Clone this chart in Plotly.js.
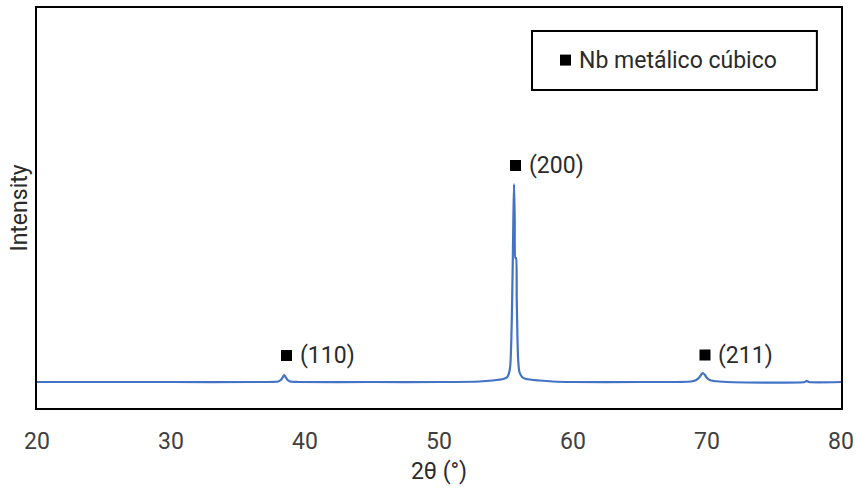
<!DOCTYPE html>
<html>
<head>
<meta charset="utf-8">
<script src="https://cdn.plot.ly/plotly-3.0.1.min.js"></script>
<style>
html,body{margin:0;padding:0;background:#fff;}
#chart{width:856px;height:493px;}
</style>
</head>
<body>
<div id="chart"></div>
<script>
// XRD pattern (2θ in degrees, intensity in arbitrary counts)
const twoTheta = [20, 25, 30, 36, 38.0, 38.2, 38.35, 38.45, 38.55, 38.7, 38.9, 39.5, 45, 50, 53, 54, 54.8, 55.1, 55.3, 55.45, 55.55, 55.6, 55.65, 55.7, 55.75, 55.8, 55.9, 56.0, 56.2, 56.5, 57.5, 58.5, 60, 65, 68.8, 69.2, 69.45, 69.6, 69.7, 69.85, 70.0, 70.2, 70.5, 71.5, 77.3, 77.45, 77.6, 80];
const intensity = [260, 260, 260, 260, 265, 280, 310, 330, 310, 280, 265, 260, 260, 260, 265, 275, 290, 310, 400, 1000, 1900, 2240, 1900, 1500, 1500, 1100, 500, 360, 310, 290, 275, 265, 260, 260, 265, 280, 310, 340, 350, 330, 300, 280, 270, 260, 260, 272, 260, 260];

// Peak identification (Miller indices) — marker and label positions
const peakLabels = ['(110)', '(200)', '(211)'];
const peakMarkX = [38.62, 55.71, 69.85];
const peakTextX = [39.45, 56.55, 70.65];
const peakLabelY = [525, 2425, 530];

const legendText = 'Nb metálico cúbico';
const xTitle = '2θ (°)';
const yTitle = 'Intensity';

const txt = '#2b2b2b';
const fontFam = 'Roboto, "Open Sans", sans-serif';

const annotations = peakLabels.map((t, i) => ({
  x: peakTextX[i], y: peakLabelY[i], xref: 'x', yref: 'y',
  text: t, showarrow: false, xanchor: 'left', yanchor: 'middle',
  font: {family: fontFam, size: 23, color: txt}
}));
annotations.push({
  x: 0.6715, y: 0.87, xref: 'paper', yref: 'paper',
  text: legendText, showarrow: false, xanchor: 'left', yanchor: 'middle',
  font: {family: fontFam, size: 23, color: txt}
});

Plotly.newPlot('chart', [{
  x: twoTheta, y: intensity, type: 'scatter', mode: 'lines',
  line: {color: '#4472C4', width: 2.2, shape: 'spline', smoothing: 0.6},
  showlegend: false, hoverinfo: 'x+y'
}, {
  x: peakMarkX, y: peakLabelY, type: 'scatter', mode: 'markers',
  marker: {symbol: 'square', size: 11, color: '#000'},
  showlegend: false, hoverinfo: 'skip', cliponaxis: false
}], {
  width: 856, height: 493,
  margin: {l: 37, r: 15, t: 8, b: 85},
  paper_bgcolor: '#fff', plot_bgcolor: '#fff',
  showlegend: false,
  xaxis: {
    range: [20, 80], dtick: 10, tick0: 20, showgrid: false, zeroline: false,
    showline: true, mirror: true, linecolor: '#000', linewidth: 2,
    ticks: '', ticklabelstandoff: 11,
    tickfont: {family: fontFam, size: 23, color: '#404040'},
    title: {text: xTitle, font: {family: fontFam, size: 23, color: txt}, standoff: 9}
  },
  yaxis: {
    range: [0, 4000], showgrid: false, zeroline: false, showticklabels: false,
    showline: true, mirror: true, linecolor: '#000', linewidth: 2, ticks: '',
    title: {text: yTitle, font: {family: fontFam, size: 23, color: txt}, standoff: 1}
  },
  shapes: [{
    type: 'rect', xref: 'paper', yref: 'paper',
    x0: 0.6157, x1: 0.970, y0: 0.795, y1: 0.9425,
    line: {color: '#000', width: 2}, fillcolor: 'rgba(0,0,0,0)'
  }, {
    type: 'rect', xref: 'paper', yref: 'paper',
    x0: 0.6505, x1: 0.6642, y0: 0.856, y1: 0.8835,
    line: {width: 0}, fillcolor: '#000'
  }],
  annotations: annotations
}, {displayModeBar: false, staticPlot: true});
</script>
</body>
</html>
